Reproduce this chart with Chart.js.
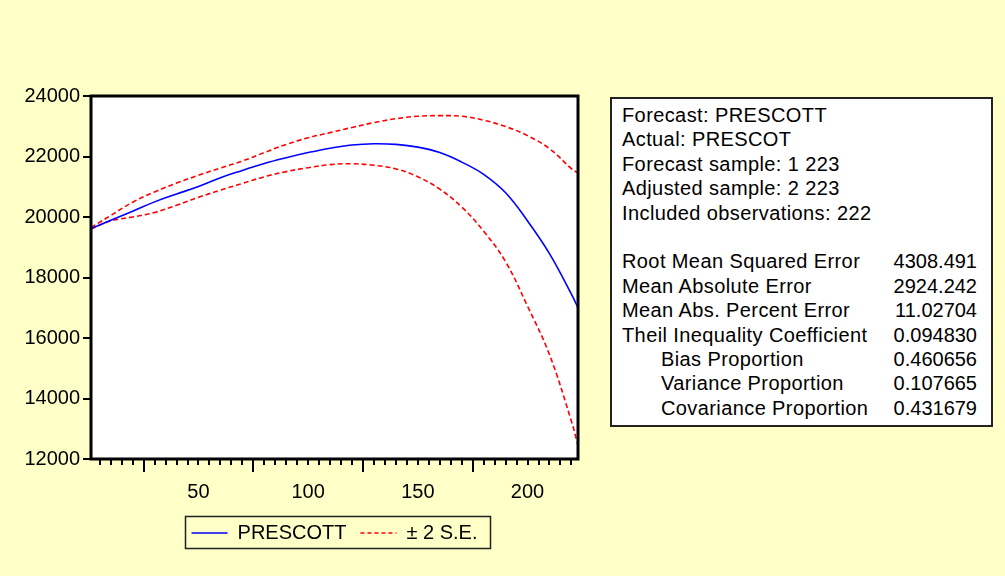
<!DOCTYPE html>
<html><head><meta charset="utf-8">
<script src="https://cdn.jsdelivr.net/npm/chart.js@4.4.0/dist/chart.umd.min.js"></script>
<style>
html,body{margin:0;padding:0;background:#ffffc8;width:1005px;height:576px;overflow:hidden}
#wrap{position:relative;width:1005px;height:576px}
#c{position:absolute;left:0;top:0}
#stats{position:absolute;left:610px;top:97px;width:379px;height:326px;border:2px solid #222;background:#fff;font:20px "Liberation Sans",Arial,sans-serif;color:#000;letter-spacing:0.4px}
.row{position:absolute;left:10px;right:14px;height:24px;line-height:24px;white-space:nowrap}
.row .v{position:absolute;right:0;top:0;letter-spacing:0}
.row.ind{padding-left:39px}
</style>
</head><body>
<div id="wrap"><canvas id="c" width="1005" height="576"></canvas><div id="stats"></div></div>
<script>
// ---- data ----
const obs      = [1,10,20,30,40,50,60,70,80,90,100,110,120,130,140,150,160,170,180,190,200,210,220,223];
const forecast = [19620,19890,20190,20500,20760,21010,21300,21540,21770,21960,22130,22275,22380,22420,22400,22310,22130,21815,21410,20800,19870,18790,17450,17000];
const upperSE  = [19650,20050,20490,20830,21120,21380,21620,21850,22130,22400,22620,22790,22960,23120,23250,23330,23350,23330,23200,22990,22690,22260,21600,21450];
const lowerSE  = [19600,19870,20000,20150,20390,20650,20890,21110,21330,21500,21630,21730,21760,21710,21590,21330,20920,20330,19530,18520,17050,15450,13250,12450];
const xTickLabels = [50,100,150,200];
const yTickLabels = [12000,14000,16000,18000,20000,22000,24000];
const xMinorTicks = [5,10,15,20,25,30,35,40,45,50,55,60,65,70,75,80,85,90,95,100,105,110,115,120,125,130,135,140,145,150,155,160,165,170,175,180,185,190,195,200,205,210,215,220];
const xLongTicks = [25,75,125,175];
const seriesNames = ['PRESCOTT','± 2 S.E.'];
const headerLines = ['Forecast: PRESCOTT','Actual: PRESCOT','Forecast sample: 1 223','Adjusted sample: 2 223','Included observations: 222'];
const statNames  = ['Root Mean Squared Error','Mean Absolute Error','Mean Abs. Percent Error','Theil Inequality Coefficient','Bias Proportion','Variance Proportion','Covariance Proportion'];
const statValues = ['4308.491','2924.242','11.02704','0.094830','0.460656','0.107665','0.431679'];
const statIndent = [false,false,false,false,true,true,true];

// ---- stats box ----
const box = document.getElementById('stats');
const rowTop = i => 4 + i * 24.4;
headerLines.forEach((t,i)=>{const d=document.createElement('div');d.className='row';d.style.top=rowTop(i)+'px';d.textContent=t;box.appendChild(d);});
statNames.forEach((t,k)=>{const i=k+6;const d=document.createElement('div');d.className='row'+(statIndent[k]?' ind':'');d.style.top=rowTop(i)+'px';
  const s=document.createElement('span');s.textContent=t;d.appendChild(s);
  const v=document.createElement('span');v.className='v';v.textContent=statValues[k];d.appendChild(v);box.appendChild(d);});

// ---- chart ----
const FONT = {family:'"Liberation Sans", Arial, sans-serif', size:20};
const pts = ys => obs.map((x,i)=>({x:x,y:ys[i]}));
const BLUE='#0000ff', RED='#ff0000';

const decor = {
  id:'decor',
  beforeDraw(chart){
    const {ctx, chartArea:a} = chart;
    ctx.save(); ctx.fillStyle='#fff'; ctx.fillRect(a.left,a.top,a.right-a.left,a.bottom-a.top); ctx.restore();
  },
  afterDraw(chart){
    const {ctx, chartArea:a} = chart;
    const xs = chart.scales.x;
    ctx.save();
    ctx.fillStyle='#000';
    xMinorTicks.forEach(v=>{
      const px=Math.round(xs.getPixelForValue(v));
      const len = xLongTicks.includes(v) ? 13 : 6;
      ctx.fillRect(px-1, a.bottom, 2, len);
    });
    ctx.strokeStyle='#000'; ctx.lineWidth=3;
    ctx.strokeRect(a.left, a.top, a.right-a.left, a.bottom-a.top);
    // legend frame
    const lg = chart.legend;
    if (lg && lg.legendHitBoxes && lg.legendHitBoxes.length){
      const hb = lg.legendHitBoxes;
      const l = hb[0].left - 7, r = hb[hb.length-1].left + hb[hb.length-1].width + 12;
      const cy = hb[0].top + hb[0].height/2;
      ctx.lineWidth=1.5; ctx.strokeStyle='#222';
      ctx.strokeRect(Math.round(l)+0.5, Math.round(cy-17)+0.5, Math.round(r-l), 32);
    }
    ctx.restore();
  }
};

new Chart(document.getElementById('c'), {
  type:'line',
  data:{datasets:[
    {label:seriesNames[0], data:pts(forecast), borderColor:BLUE, borderWidth:1.6, pointRadius:0, tension:0.4, fill:false},
    {label:seriesNames[1], data:pts(upperSE), borderColor:RED, borderWidth:1.6, borderDash:[5,3], pointRadius:0, tension:0.4, fill:false},
    {label:'lower', data:pts(lowerSE), borderColor:RED, borderWidth:1.6, borderDash:[5,3], pointRadius:0, tension:0.4, fill:false}
  ]},
  options:{
    responsive:false, animation:false, devicePixelRatio:1,
    layout:{padding:{left:0, top:96, right:427, bottom:23}},
    plugins:{
      tooltip:{enabled:false},
      legend:{
        position:'bottom', fullSize:false, align:'center',
        labels:{
          font:FONT, color:'#000', usePointStyle:true, pointStyleWidth:36, boxHeight:10, padding:14,
          generateLabels:()=>[
            {text:seriesNames[0], strokeStyle:BLUE, fillStyle:BLUE, lineWidth:1.6, lineDash:[], pointStyle:'line', datasetIndex:0},
            {text:seriesNames[1], strokeStyle:RED, fillStyle:RED, lineWidth:1.6, lineDash:[4,3], pointStyle:'line', datasetIndex:1}
          ]
        }
      }
    },
    scales:{
      x:{type:'linear', min:1, max:223,
        afterBuildTicks:ax=>{ax.ticks = xTickLabels.map(v=>({value:v}));},
        afterFit:ax=>{ax.height=50;},
        grid:{display:false}, border:{display:false},
        ticks:{font:FONT, color:'#000', padding:13, maxRotation:0, autoSkip:false, callback:v=>String(v)}
      },
      y:{type:'linear', min:12000, max:24000,
        afterBuildTicks:ax=>{ax.ticks = yTickLabels.map(v=>({value:v}));},
        afterFit:ax=>{ax.width=91;},
        grid:{drawOnChartArea:false, drawTicks:true, tickLength:8, color:'#000', lineWidth:2},
        border:{display:false},
        ticks:{font:FONT, color:'#000', padding:3, callback:v=>String(v)}
      }
    }
  },
  plugins:[decor]
});
</script>
</body></html>
